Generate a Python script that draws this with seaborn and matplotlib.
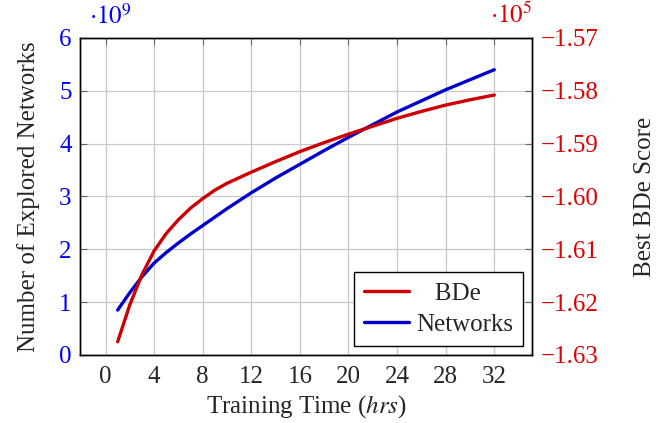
import matplotlib
matplotlib.use('Agg')
import matplotlib.pyplot as plt
import seaborn as sns

# values
hours = [1, 2, 3, 4, 5, 6, 7, 8, 9, 10, 12, 14, 16, 18, 20, 22, 24, 26, 28, 30, 32]
# explored networks, in units of 1e9
networks = [0.85, 1.18, 1.48, 1.74, 1.94, 2.12, 2.29, 2.45, 2.61, 2.77, 3.07,
            3.35, 3.61, 3.87, 4.12, 4.36, 4.60, 4.81, 5.02, 5.21, 5.40]
# best BDe score, in units of 1e5
bde = [-1.6275, -1.6205, -1.6148, -1.6103, -1.6070, -1.6044, -1.6022, -1.6004,
       -1.5988, -1.5975, -1.5954, -1.5934, -1.5915, -1.5898, -1.5882, -1.5867,
       -1.5852, -1.5839, -1.5827, -1.5817, -1.5808]

x_ticks = [0, 4, 8, 12, 16, 20, 24, 28, 32]
left_ticks = [0, 1, 2, 3, 4, 5, 6]
right_ticks = [-1.63, -1.62, -1.61, -1.60, -1.59, -1.58, -1.57]

sns.set_style('white')
plt.rcParams['font.family'] = ['Liberation Serif', 'DejaVu Serif']
plt.rcParams['mathtext.fontset'] = 'stix'
plt.rcParams['font.size'] = 18

red_line = '#cc0000'
blue_line = '#0000cc'

fig = plt.figure(figsize=(6.6, 4.23), dpi=100)
ax = fig.add_axes([0.1212, 0.1608, 0.6848, 0.7494])
ax2 = ax.twinx()

sns.lineplot(x=hours, y=networks, ax=ax, color=blue_line, linewidth=2.4, label='Networks', legend=False)
sns.lineplot(x=hours, y=bde, ax=ax2, color=red_line, linewidth=2.4, label='BDe', legend=False)

ax.set_xlim(-2.1, 35.1)
ax.set_ylim(0, 6)
ax2.set_ylim(-1.63, -1.57)
ax.set_xticks(x_ticks)
ax.set_yticks(left_ticks)
ax2.set_yticks(right_ticks)
ax2.set_yticklabels(['\u2212%.2f' % abs(v) for v in right_ticks])

ax.grid(True, color='#c8c8c8', linewidth=0.9)
ax.set_axisbelow(True)

ax.tick_params(axis='x', direction='in', length=5, color='#666666', top=True, pad=8, labelsize=18)
ax.tick_params(axis='y', direction='in', length=5, color='#666666', labelcolor='blue', labelsize=18, pad=6)
ax2.tick_params(axis='y', direction='in', length=5, color='#666666', labelcolor='#e00000', labelsize=18, pad=6)

for a in (ax, ax2):
    for s in a.spines.values():
        s.set_color('black')
        s.set_linewidth(1.0)

ax.set_xlabel('Training Time ($hrs$)', fontsize=18, labelpad=4)
ax.set_ylabel('Number of Explored Networks', fontsize=18, labelpad=14)
ax2.set_ylabel('Best BDe Score', fontsize=18, labelpad=26)

ax.text(0.02, 1.03, r'$\cdot 10^{9}$', transform=ax.transAxes, color='blue', fontsize=18, ha='left', va='bottom')
ax2.text(1.0, 1.03, r'$\cdot 10^{5}$', transform=ax2.transAxes, color='#e00000', fontsize=18, ha='right', va='bottom')

h1, l1 = ax.get_legend_handles_labels()
h2, l2 = ax2.get_legend_handles_labels()
leg = ax2.legend(h2 + h1, l2 + l1, loc='lower right', fontsize=18, frameon=True, fancybox=False,
                 edgecolor='black', framealpha=1, borderaxespad=0.35, handlelength=1.8,
                 borderpad=0.4, labelspacing=0.35, handletextpad=0.3)
leg.get_frame().set_linewidth(1.0)
# centre the shorter label in the text column, as in the original
texts = leg.get_texts()
texts[0].set_text('   BDe')

fig.savefig('out.png', dpi=100)
plt.close(fig)
